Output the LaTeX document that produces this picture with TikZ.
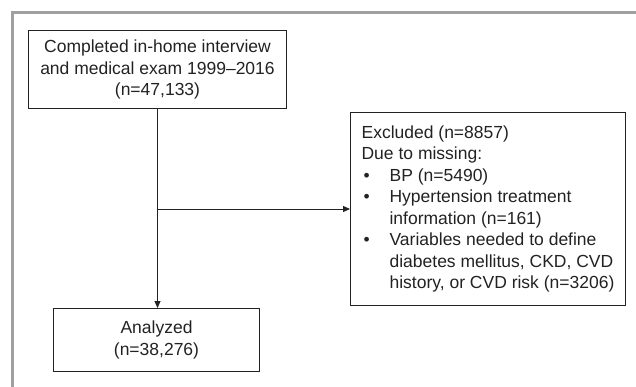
\documentclass[tikz,border=0pt]{standalone}
\usepackage{fontspec}
\setmainfont{Liberation Sans}
\usetikzlibrary{arrows.meta}
\definecolor{framegray}{HTML}{A0A0A0}
\definecolor{ink}{HTML}{222222}
\tikzset{
  box/.style={draw=ink, line width=1pt, text=ink, inner sep=0pt,
    font=\fontsize{17.5}{21.5}\selectfont},
  conn/.style={draw=ink, line width=0.9pt},
  arr/.style={conn, -{Triangle[length=7pt,width=6pt]}},
  frame/.style={draw=framegray, line width=3pt}
}
\newcommand{\bul}{\makebox[28pt][l]{\hspace{2pt}•}}
\newcommand{\ind}{\hspace*{28pt}}
\begin{document}
\begin{tikzpicture}[x=1pt,y=-1pt]
\useasboundingbox (0,0) rectangle (636,387);
\draw[frame] (12,387) -- (12,13) -- (636,13);
\node[box, anchor=north west, minimum width=258, minimum height=78, align=center] (top) at (28,30)
  {Completed in-home interview\\and medical exam 1999–2016\\(n=47,133)};
\node[box, anchor=north west, minimum width=206, minimum height=63, align=center] (an) at (53,308)
  {Analyzed\\(n=38,276)};
\node[box, anchor=north west, minimum width=275, minimum height=193, align=left] (ex) at (350,112)
  {Excluded (n=8857)\\Due to missing:\\\bul BP (n=5490)\\\bul Hypertension treatment\\\ind information (n=161)\\\bul Variables needed to define\\\ind diabetes mellitus, CKD, CVD\\\ind history, or CVD risk (n=3206)};
\path (top.south) ++(0,100) coordinate (j);
\draw[arr] (top.south) -- (top.south |- an.north);
\draw[arr] (j) -- (j -| ex.west);
\end{tikzpicture}
\end{document}
